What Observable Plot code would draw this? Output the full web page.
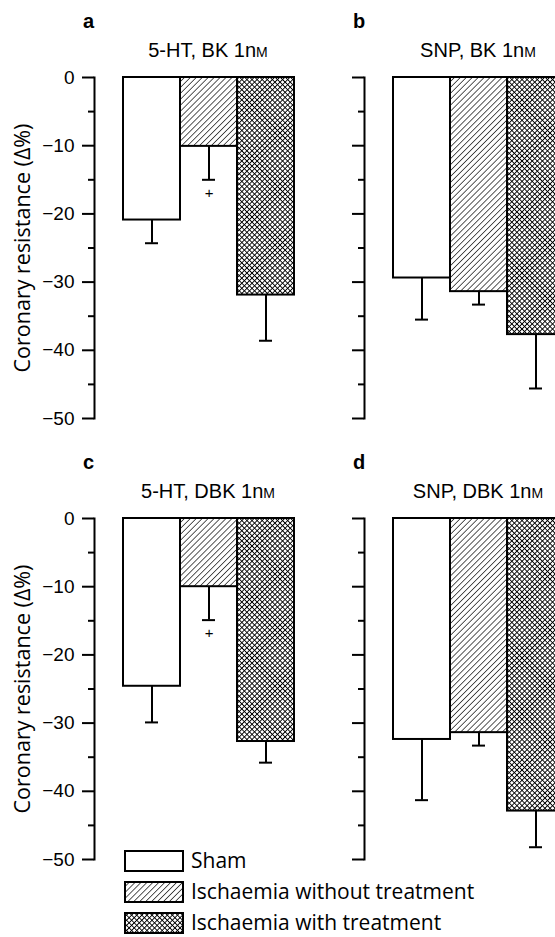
<!DOCTYPE html>
<html>
<head>
<meta charset="utf-8">
<script src="https://cdn.jsdelivr.net/npm/d3@7"></script>
<script src="https://cdn.jsdelivr.net/npm/@observablehq/plot@0.6"></script>
<style>
html, body { margin: 0; padding: 0; background: #fff; }
#root { position: relative; width: 555px; height: 937px; overflow: hidden; background: #fff; }
.panel { position: absolute; width: 300px; height: 440px; }
.letter { position: absolute; font: bold 20px "Liberation Sans", Arial, sans-serif; line-height: 20px; color: #000; }
.sub { position: absolute; font: 20px "Liberation Sans", Arial, sans-serif; line-height: 20px; color: #000; white-space: nowrap; transform: translateX(-50%); }
.sc { font-variant: small-caps; }
#legend { position: absolute; left: 124px; top: 845px; font: 21px "Open Sans", sans-serif; line-height: 1; color: #000; }
#legend .row { display: flex; align-items: center; height: 31px; }
#legend span { line-height: 1; }
#legend svg { display: block; margin-right: 7px; }
</style>
</head>
<body>
<div id="root">
<svg width="0" height="0" style="position:absolute">
  <defs>
    <pattern id="hatch" patternUnits="userSpaceOnUse" width="4.2" height="4.2" patternTransform="rotate(45)">
      <rect width="4.2" height="4.2" fill="#fff"/>
      <line x1="0" y1="0" x2="0" y2="4.2" stroke="#000" stroke-width="1.3"/>
    </pattern>
    <pattern id="cross" patternUnits="userSpaceOnUse" width="3.6" height="3.6" patternTransform="rotate(45)">
      <rect width="3.6" height="3.6" fill="#fff"/>
      <line x1="0" y1="0" x2="0" y2="3.6" stroke="#000" stroke-width="1.8"/>
      <line x1="0" y1="0" x2="3.6" y2="0" stroke="#000" stroke-width="1.8"/>
    </pattern>
  </defs>
</svg>
</div>
<script>
// ---- data ----
const groups = ["Sham", "Ischaemia without treatment", "Ischaemia with treatment"];
const panelLetters = ["a", "b", "c", "d"];
const panelDrugs = ["5-HT, BK 1n", "SNP, BK 1n", "5-HT, DBK 1n", "SNP, DBK 1n"];
const panelUnit = "m"; // small-caps M (nM)

const meansA = [-20.9, -10.1, -31.9];
const errsA  = [3.4, 4.9, 6.7];
const sigA   = [false, true, false];

const meansB = [-29.4, -31.4, -37.7];
const errsB  = [6.1, 1.9, 7.9];
const sigB   = [false, false, false];

const meansC = [-24.6, -10.0, -32.7];
const errsC  = [5.3, 4.9, 3.1];
const sigC   = [false, true, false];

const meansD = [-32.4, -31.4, -42.9];
const errsD  = [8.9, 1.9, 5.3];
const sigD   = [false, false, false];

const yTicks = [0, -10, -20, -30, -40, -50];
const yMinorTicks = [-5, -15, -25, -35, -45];
const yLabel = "Coronary resistance (\u0394%)";
const sigMark = "+";

// ---- styles ----
const fills = ["#fff", "url(#hatch)", "url(#cross)"];
const panelLeft = [0, 270, 0, 270];
const panelTop = [0, 0, 441, 441];

const means = [meansA, meansB, meansC, meansD];
const errs = [errsA, errsB, errsC, errsD];
const sigs = [sigA, sigB, sigC, sigD];

const root = document.getElementById("root");

function makePanel(i) {
  const rows = groups.map((g, j) => ({group: g, mean: means[i][j], err: errs[i][j], sig: sigs[i][j]}));
  const showLabels = i % 2 === 0;
  const marks = [
    Plot.barY(rows, {x: "group", y: "mean", fill: "group", stroke: "#000", strokeWidth: 2}),
    Plot.ruleX(rows, {x: "group", y1: "mean", y2: d => d.mean - d.err, stroke: "#000", strokeWidth: 2}),
    Plot.tickY(rows, {x: "group", y: d => d.mean - d.err, stroke: "#000", strokeWidth: 2, insetLeft: 22, insetRight: 22}),
    Plot.text(rows, {filter: d => d.sig, x: "group", y: d => d.mean - d.err, text: () => sigMark, dy: 13, fontSize: 15, fill: "#000"}),
    Plot.frame({anchor: "left", stroke: "#000", strokeWidth: 2}),
    Plot.axisY(yTicks, {anchor: "left", tickSize: 12, tickPadding: 8, strokeWidth: 2, stroke: "#000",
      fill: showLabels ? "#000" : "none", label: null, fontSize: 19}),
    Plot.axisY(yMinorTicks, {anchor: "left", tickSize: 6, strokeWidth: 2, stroke: "#000", fill: "none", label: null})
  ];
  if (showLabels) {
    marks.push(Plot.text([yLabel], {frameAnchor: "left", rotate: -90, dx: -71, text: d => d,
      textAnchor: "middle", lineAnchor: "middle", fontSize: 21.5, fontFamily: "Open Sans", fill: "#000"}));
  }
  const chart = Plot.plot({
    width: 300,
    height: 440,
    marginLeft: 94,
    marginRight: 6,
    marginTop: 77,
    marginBottom: 22,
    style: {fontFamily: "Liberation Sans, Arial, sans-serif", fontSize: "19px", color: "#000", background: "transparent", maxWidth: "none", overflow: "visible"},
    x: {domain: groups, range: [122, 294], padding: 0, axis: null},
    y: {domain: [-50, 0], axis: null},
    color: {domain: groups, range: fills, type: "ordinal"},
    marks
  });
  const div = document.createElement("div");
  div.className = "panel";
  div.style.left = panelLeft[i] + "px";
  div.style.top = panelTop[i] + "px";
  div.appendChild(chart);
  root.appendChild(div);

  const letter = document.createElement("div");
  letter.className = "letter";
  letter.textContent = panelLetters[i];
  letter.style.left = (panelLeft[i] + 83) + "px";
  letter.style.top = (panelTop[i] + 11) + "px";
  root.appendChild(letter);

  const sub = document.createElement("div");
  sub.className = "sub";
  sub.innerHTML = panelDrugs[i] + '<span class="sc">' + panelUnit + '</span>';
  sub.style.left = (panelLeft[i] + 208) + "px";
  sub.style.top = (panelTop[i] + 40) + "px";
  root.appendChild(sub);
}

for (let i = 0; i < 4; i++) makePanel(i);

// ---- legend ----
const legend = document.createElement("div");
legend.id = "legend";
groups.forEach((g, j) => {
  const row = document.createElement("div");
  row.className = "row";
  row.innerHTML = `<svg width="60" height="22"><rect x="1" y="1" width="58" height="20" fill="${fills[j]}" stroke="#000" stroke-width="2"/></svg><span>${g}</span>`;
  legend.appendChild(row);
});
root.appendChild(legend);
</script>
</body>
</html>
